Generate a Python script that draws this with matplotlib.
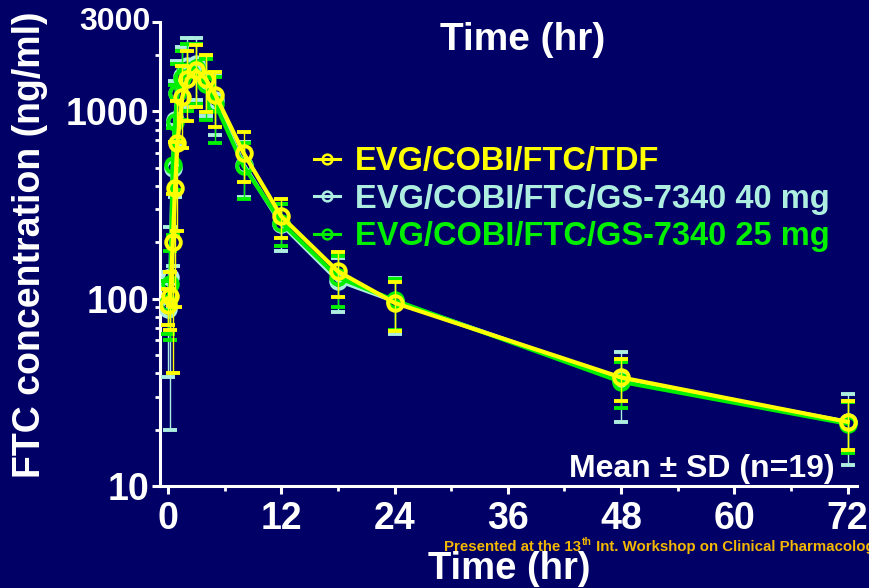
import numpy as np
import matplotlib
matplotlib.use("Agg")
import matplotlib.pyplot as plt
from matplotlib import font_manager as fm
from matplotlib.ticker import LogLocator, NullFormatter, FixedLocator, MultipleLocator
from matplotlib.lines import Line2D

# ---------------- data ----------------
times = [0, 0.25, 0.5, 0.75, 1, 1.5, 2, 3, 4, 5, 8, 12, 18, 24, 48, 72]

tdf_mean = [92, 103, 200, 390, 680, 1190, 1490, 1660, 1490, 1230, 600, 275, 140, 95, 38, 22]
tdf_sd = [20, 35, 160, 300, 450, 550, 600, 600, 500, 400, 180, 65, 38, 28, 9.5, 6.5]

gs40_mean = [88, 130, 500, 900, 1250, 1550, 1750, 1800, 1450, 1150, 520, 250, 125, 97, 37, 22]
gs40_sd = [50, 110, 350, 550, 600, 650, 700, 650, 500, 400, 170, 70, 40, 32, 15, 9]

gs25_mean = [95, 120, 520, 880, 1250, 1500, 1650, 1700, 1400, 1100, 510, 255, 130, 98, 36, 21.5]
gs25_sd = [30, 60, 300, 500, 550, 600, 650, 600, 500, 420, 170, 65, 40, 30, 10, 6.5]

series_labels = ["EVG/COBI/FTC/TDF", "EVG/COBI/FTC/GS-7340 40 mg", "EVG/COBI/FTC/GS-7340 25 mg"]
x_ticks = [0, 12, 24, 36, 48, 60, 72]
y_ticks = [10, 100, 1000]
y_top = 3000

# ---------------- style ----------------
names = {f.name for f in fm.fontManager.ttflist}
base = "Liberation Sans" if "Liberation Sans" in names else "DejaVu Sans"

BG = "#000066"
YEL = "#FFFF00"
CYA = "#AEEEE0"
GRN = "#00F000"
WM = "#F5B800"

plt.rcParams["font.family"] = [base, "DejaVu Sans"]
plt.rcParams["font.weight"] = "bold"

fig = plt.figure(figsize=(8.7, 5.88), dpi=100, facecolor=BG)
ax = fig.add_axes([160 / 870, (588 - 486) / 588, (857 - 160) / 870, (486 - 22) / 588])
ax.set_facecolor(BG)

def draw(mean, sd, color, z):
    ax.errorbar(times, mean, yerr=sd, color=color, lw=3.0, marker="o", ms=10.5,
                mfc="none", mec=color, mew=2.8, elinewidth=1.0, capsize=5,
                capthick=1.2, ecolor=color, zorder=z)

draw(gs40_mean, gs40_sd, CYA, 3)
draw(gs25_mean, gs25_sd, GRN, 4)
draw(tdf_mean, tdf_sd, YEL, 5)

ax.set_yscale("log")
ax.set_ylim(10, y_top)
ax.set_xlim(-0.85, 73)

for s in ["top", "right"]:
    ax.spines[s].set_visible(False)
for s in ["left", "bottom"]:
    ax.spines[s].set_color("white")
    ax.spines[s].set_linewidth(2.2)

ax.yaxis.set_major_locator(FixedLocator(y_ticks + [y_top]))
ax.set_yticklabels([str(v) for v in y_ticks] + [""])
ax.yaxis.set_minor_locator(LogLocator(base=10, subs=np.arange(2, 10)))
ax.yaxis.set_minor_formatter(NullFormatter())
ax.xaxis.set_major_locator(FixedLocator(x_ticks))
ax.set_xticklabels([str(v) for v in x_ticks])
ax.xaxis.set_minor_locator(MultipleLocator(6))

ax.tick_params(axis="both", which="major", colors="white", width=2.2, length=6,
               labelsize=27)
ax.tick_params(axis="x", which="major", pad=5)
ax.tick_params(axis="y", which="major", pad=1.5)
ax.tick_params(axis="both", which="minor", colors="white", width=2.0, length=3.5)
for lab in ax.get_xticklabels() + ax.get_yticklabels():
    lab.set_fontweight("bold")

ax.annotate("3000", xy=(0, y_top), xycoords=("axes fraction", "data"),
            xytext=(-7, 0), textcoords="offset points", ha="right", va="center",
            color="white", fontsize=23, fontweight="bold", annotation_clip=False)

# axis labels
fig.text(30 / 870, (588 - 245) / 588, "FTC concentration (ng/ml)", rotation=90,
         ha="center", va="center", color="white", fontsize=27, fontweight="bold")
fig.text(428 / 870, (588 - 579) / 588, "Time (hr)", ha="left", va="baseline", color="white",
         fontsize=27.5, fontweight="bold")
fig.text(440 / 870, (588 - 50) / 588, "Time (hr)", ha="left", va="baseline", color="white",
         fontsize=28, fontweight="bold")

# annotation
fig.text(835 / 870, (588 - 477) / 588, "Mean ± SD (n=19)", ha="right", va="baseline",
         color="white", fontsize=23, fontweight="bold")

# watermark
t1 = fig.text(444 / 870, (588 - 551) / 588, "Presented at the 13", ha="left", va="baseline",
              color=WM, fontsize=10.8, fontweight="bold")
t2 = fig.text(0, 0, "th", color=WM, fontsize=7.5, fontweight="bold", ha="left", va="baseline")
t3 = fig.text(0, 0, " Int. Workshop on Clinical Pharmacology", color=WM,
              fontsize=10.8, fontweight="bold", ha="left", va="baseline")
fig.canvas.draw()
r = fig.canvas.get_renderer()
bb1 = t1.get_window_extent(r)
t2.set_position(((bb1.x1 + 1) / 870, (588 - 551 + 6) / 588))
fig.canvas.draw()
bb2 = t2.get_window_extent(r)
t3.set_position((bb2.x1 / 870, (588 - 551) / 588))

# legend
handles = [Line2D([], [], color=c, lw=2.2, marker="o", ms=7, mfc="none", mew=1.8)
           for c in (YEL, CYA, GRN)]
leg = ax.legend(handles, series_labels, loc="upper left",
                bbox_to_anchor=(314 / 870, (588 - 146) / 588), bbox_transform=fig.transFigure,
                frameon=False, handlelength=0.8, handletextpad=0.45, labelspacing=0.2,
                prop={"size": 23.5, "weight": "bold"}, borderaxespad=0, borderpad=0)
for txt, c in zip(leg.get_texts(), (YEL, CYA, GRN)):
    txt.set_color(c)

fig.savefig("out.png", dpi=100, facecolor=BG)
